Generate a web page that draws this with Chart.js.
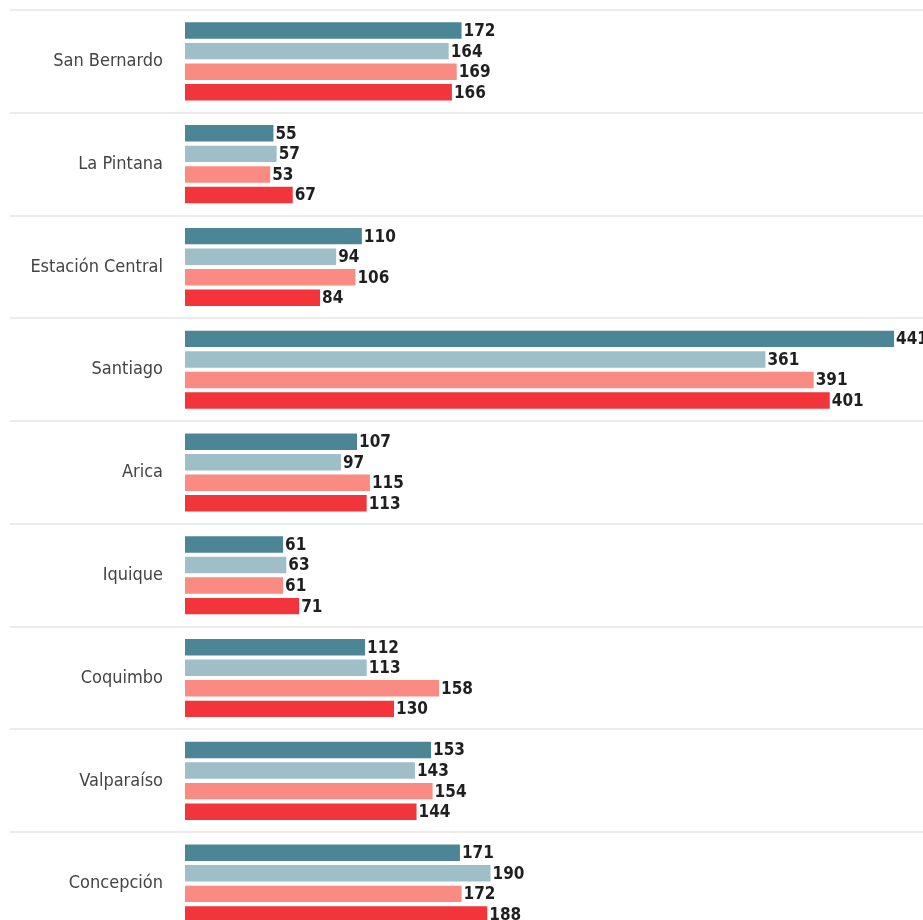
<!DOCTYPE html>
<html>
<head>
<meta charset="utf-8">
<script src="https://cdn.jsdelivr.net/npm/chart.js@4"></script>
<style>
  html, body { margin: 0; padding: 0; background: #fff; overflow: hidden; }
  #wrap { width: 923px; height: 935px; position: relative; }
</style>
</head>
<body>
<div id="wrap"><canvas id="chart"></canvas></div>
<script>
// --- Data ---
const comunas = ['San Bernardo', 'La Pintana', 'Estación Central', 'Santiago', 'Arica', 'Iquique', 'Coquimbo', 'Valparaíso', 'Concepción'];
const serie1 = [172, 55, 110, 441, 107, 61, 112, 153, 171];
const serie2 = [164, 57, 94, 361, 97, 63, 113, 143, 190];
const serie3 = [169, 53, 106, 391, 115, 61, 158, 154, 172];
const serie4 = [166, 67, 84, 401, 113, 71, 130, 144, 188];
const colores = ['#4b8596', '#9ebfc8', '#f98b82', '#f2353a'];

// separator lines between groups, spanning the full width
const separators = {
    id: 'separators',
    beforeDatasetsDraw(chart) {
        const { ctx, scales: { y } } = chart;
        const step = y.getPixelForValue(1) - y.getPixelForValue(0);
        ctx.save();
        ctx.strokeStyle = '#ebebeb';
        ctx.lineWidth = 2;
        for (let i = 0; i <= comunas.length; i++) {
            const py = Math.round(y.getPixelForValue(i) - step / 2);
            ctx.beginPath();
            ctx.moveTo(10, py);
            ctx.lineTo(chart.width, py);
            ctx.stroke();
        }
        ctx.restore();
    }
};

// value labels with a white box at the end of each bar
const valueLabels = {
    id: 'valueLabels',
    afterDatasetsDraw(chart) {
        const { ctx } = chart;
        ctx.save();
        ctx.font = 'bold 17px "DejaVu Sans Condensed", "DejaVu Sans", sans-serif';
        ctx.textBaseline = 'middle';
        chart.data.datasets.forEach((ds, di) => {
            chart.getDatasetMeta(di).data.forEach((bar, i) => {
                const txt = String(ds.data[i]);
                const w = ctx.measureText(txt).width;
                const x = bar.x + 1;
                ctx.fillStyle = '#fff';
                ctx.fillRect(x, bar.y - 9, w + 3, 18);
                ctx.fillStyle = '#1f1f1f';
                ctx.fillText(txt, x + 1, bar.y + 1);
            });
        });
        ctx.restore();
    }
};

const mkSet = (label, data, color) => ({
    label, data,
    backgroundColor: color,
    borderWidth: 0,
    barPercentage: 0.8,
    categoryPercentage: 0.8
});

new Chart(document.getElementById('chart'), {
    type: 'bar',
    data: {
        labels: comunas,
        datasets: [
            mkSet('Serie 1', serie1, colores[0]),
            mkSet('Serie 2', serie2, colores[1]),
            mkSet('Serie 3', serie3, colores[2]),
            mkSet('Serie 4', serie4, colores[3])
        ]
    },
    options: {
        indexAxis: 'y',
        responsive: true,
        maintainAspectRatio: false,
        animation: false,
        layout: { padding: { top: 10, right: 0, bottom: 0, left: 0 } },
        scales: {
            x: { display: false, min: 0, max: 459 },
            y: {
                afterFit: s => { s.width = 185; s.paddingTop = 0; s.paddingBottom = 0; },
                border: { display: false },
                grid: { display: false, drawTicks: false },
                ticks: {
                    padding: 22,
                    color: '#444',
                    font: { family: '"Liberation Sans Narrow", "DejaVu Sans Condensed", sans-serif', size: 18 }
                }
            }
        },
        plugins: {
            legend: { display: false },
            tooltip: { enabled: false }
        }
    },
    plugins: [separators, valueLabels]
});
</script>
</body>
</html>
